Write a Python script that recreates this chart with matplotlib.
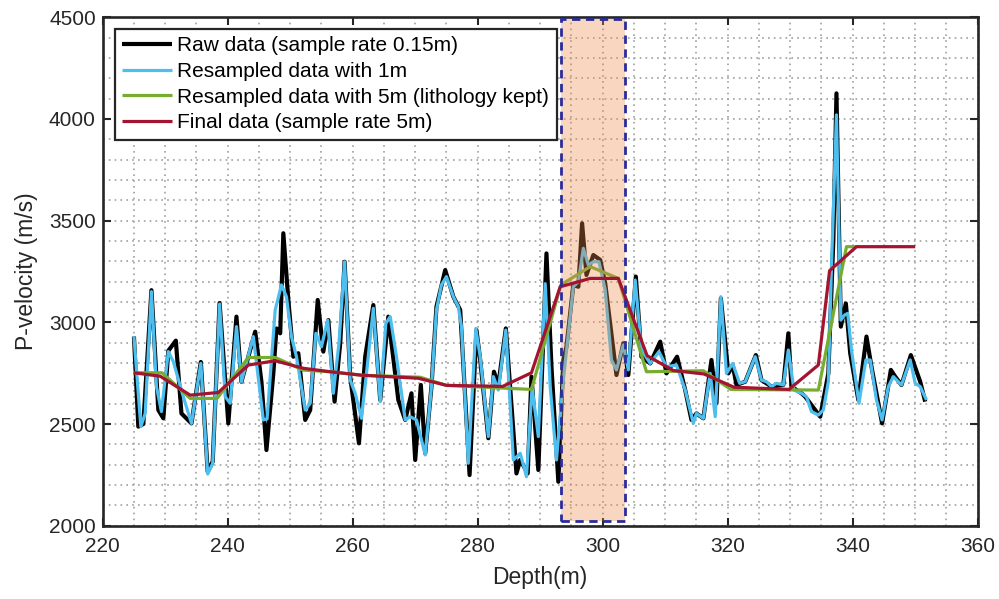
import matplotlib
matplotlib.use("Agg")
import matplotlib.pyplot as plt
from matplotlib.patches import Rectangle
from matplotlib.ticker import MultipleLocator

plt.rcParams['font.family'] = ['Liberation Sans', 'DejaVu Sans']

# raw data (sample rate 0.15m) - vertices
raw_depth = [225.0, 225.7, 226.5, 227.8, 228.9, 229.7, 230.5, 231.7, 232.6, 234.2,
             235.7, 236.8, 237.6, 238.7, 240.1, 241.4, 242.2, 244.4, 245.4, 246.2,
             247.3, 247.8, 248.4, 248.9, 249.7, 250.5, 251.3, 252.4, 253.2, 254.4,
             255.3, 256.1, 257.1, 258.0, 258.7, 259.6, 261.0, 262.0, 263.3, 264.4,
             265.7, 267.3, 268.4, 269.4, 270.0, 270.9, 271.6, 272.6, 273.4, 274.8,
             276.1, 277.2, 278.7, 279.8, 280.4, 281.7, 282.6, 283.3, 284.5, 286.2,
             286.8, 288.0, 288.6, 289.7, 291.0, 291.8, 292.9, 293.7, 294.2, 295.3,
             296.1, 296.7, 297.4, 298.5, 299.6, 300.4, 302.2, 303.3, 304.1, 305.3,
             306.2, 307.6, 309.2, 310.2, 311.9, 313.2, 314.2, 315.0, 316.1, 317.4,
             318.2, 318.9, 320.1, 320.8, 321.4, 322.8, 324.5, 325.4, 327.0, 328.9,
             329.7, 330.2, 331.8, 332.4, 334.8, 336.1, 336.9, 337.4, 338.1, 338.9,
             339.6, 340.9, 342.2, 343.0, 344.7, 346.1, 346.8, 347.8, 349.3, 350.8,
             351.6]
raw_vp = [2930, 2487, 2500, 3158, 2569, 2528, 2860, 2910, 2552, 2503,
          2805, 2265, 2315, 3095, 2503, 3028, 2708, 2954, 2707, 2372,
          2749, 2970, 2946, 3438, 3110, 2831, 2848, 2520, 2569, 3110,
          2856, 3011, 2610, 2897, 3298, 2733, 2405, 2831, 3085, 2618,
          3028, 2618, 2520, 2651, 2323, 2692, 2356, 2684, 3077, 3257,
          3126, 3061, 2249, 2962, 2815, 2430, 2757, 2692, 2970, 2257,
          2323, 2257, 2733, 2274, 3339, 2782, 2216, 2815, 2880, 3184,
          3175, 3487, 3233, 3331, 3307, 3192, 2741, 2897, 2741, 3225,
          2831, 2798, 2905, 2749, 2831, 2667, 2520, 2552, 2528, 2815,
          2602, 3118, 2749, 2790, 2692, 2708, 2839, 2716, 2684, 2692,
          2946, 2684, 2651, 2634, 2536, 2749, 3405, 4126, 2979, 3093,
          2848, 2618, 2930, 2782, 2503, 2766, 2733, 2692, 2839, 2708,
          2610]

# resampled with 1m
rs1_depth = [225.0, 226.1, 226.8, 227.8, 228.6, 229.4, 230.5, 231.3, 232.9, 234.2,
             235.7, 236.8, 237.6, 238.7, 239.6, 240.4, 241.4, 242.2, 244.1, 245.7,
             246.3, 247.6, 248.6, 249.4, 250.2, 251.0, 252.4, 253.2, 254.1, 255.0,
             256.0, 256.9, 257.8, 258.7, 259.6, 260.4, 261.4, 262.2, 263.3, 264.4,
             265.3, 266.0, 267.0, 268.4, 269.2, 270.2, 271.6, 272.6, 273.4, 274.2,
             275.0, 276.1, 276.9, 277.4, 278.5, 279.7, 280.4, 281.7, 282.5, 283.3,
             284.5, 285.7, 286.8, 287.8, 288.7, 289.7, 290.8, 291.6, 292.6, 293.7,
             294.5, 295.3, 296.1, 296.9, 297.7, 298.5, 299.4, 300.4, 301.4, 302.2,
             303.3, 304.1, 305.2, 306.2, 307.6, 309.0, 310.2, 311.8, 313.2, 314.5,
             315.0, 316.1, 317.2, 318.0, 318.9, 319.8, 320.8, 321.9, 322.8, 324.4,
             325.4, 326.2, 327.0, 327.8, 328.9, 329.7, 330.6, 331.8, 332.6, 333.4,
             334.5, 335.3, 336.1, 336.6, 337.4, 338.1, 338.7, 339.2, 339.8, 341.0,
             342.1, 342.8, 343.8, 344.7, 345.7, 346.5, 347.8, 349.2, 350.0, 350.8,
             351.8]
rs1_vp = [2930, 2487, 2552, 3151, 2684, 2561, 2856, 2807, 2634, 2503,
          2798, 2254, 2307, 3090, 2634, 2602, 2979, 2708, 2930, 2520,
          2525, 3061, 3184, 3126, 2930, 2831, 2569, 2602, 2946, 2880,
          3011, 2651, 2896, 3298, 2716, 2651, 2528, 2748, 3069, 2610,
          2995, 3028, 2831, 2520, 2536, 2520, 2348, 2684, 3061, 3184,
          3225, 3126, 3077, 2979, 2307, 2970, 2831, 2438, 2733, 2667,
          2962, 2323, 2356, 2241, 2680, 2438, 3190, 2684, 2323, 2716,
          2946, 3175, 3200, 3364, 3282, 3298, 3298, 3159, 2815, 2766,
          2889, 2766, 3208, 2864, 2798, 2856, 2782, 2790, 2667, 2503,
          2552, 2528, 2749, 2536, 3126, 2749, 2798, 2700, 2708, 2831,
          2716, 2708, 2684, 2700, 2692, 2864, 2667, 2651, 2634, 2561,
          2544, 2569, 2708, 3274, 4020, 3011, 3036, 3044, 2864, 2602,
          2815, 2815, 2618, 2520, 2684, 2733, 2692, 2815, 2700, 2684,
          2618]

# resampled with 5m (lithology kept)
rs5_depth = [225.0, 229.5, 234.0, 238.3, 243.3, 247.6, 252.1, 256.4, 261.4, 270.8,
             275.0, 288.6, 293.3, 298.0, 302.5, 307.0, 316.1, 320.5, 334.5, 339.0,
             340.6]
rs5_vp = [2752, 2752, 2626, 2626, 2827, 2827, 2765, 2757, 2740, 2730,
          2690, 2670, 3184, 3274, 3216, 2757, 2762, 2670, 2667, 3372,
          3372]

# final data (sample rate 5m)
final_depth = [225.0, 229.2, 234.0, 238.5, 243.3, 247.6, 252.1, 256.4, 261.4, 270.5,
               275.0, 284.0, 288.6, 293.2, 298.0, 302.5, 307.1, 311.3, 316.2, 321.0,
               329.8, 334.5, 336.3, 340.6, 350.0]
final_vp = [2752, 2735, 2642, 2655, 2790, 2811, 2774, 2757, 2740, 2725,
            2690, 2685, 2752, 3175, 3216, 3216, 2836, 2763, 2746, 2681,
            2670, 2790, 3254, 3372, 3372]

# highlighted interval
box_depth = [293.3, 303.5]
box_vp = [2025, 4490]

fig = plt.figure(figsize=(9.99, 5.99), dpi=100)
ax = fig.add_axes([0.1028, 0.1224, 0.8759, 0.8487])

kw = dict(solid_joinstyle='round', solid_capstyle='butt')
ax.plot(raw_depth, raw_vp, color='black', lw=3.0, label='Raw data (sample rate 0.15m)', zorder=3, **kw)
ax.plot(rs1_depth, rs1_vp, color='#4DBEEE', lw=2.3, label='Resampled data with 1m', zorder=4, **kw)
ax.plot(rs5_depth, rs5_vp, color='#77AC30', lw=2.3, label='Resampled data with 5m (lithology kept)', zorder=5, **kw)
ax.plot(final_depth, final_vp, color='#A2142F', lw=2.3, label='Final data (sample rate 5m)', zorder=7, **kw)

ax.add_patch(Rectangle((box_depth[0], box_vp[0]), box_depth[1] - box_depth[0], box_vp[1] - box_vp[0],
                       facecolor=(0.92, 0.55, 0.30), alpha=0.35, edgecolor='none', zorder=6))
ax.add_patch(Rectangle((box_depth[0], box_vp[0]), box_depth[1] - box_depth[0], box_vp[1] - box_vp[0],
                       fill=False, edgecolor='#2B2B9A', lw=2.0, linestyle=(0, (3, 2)), zorder=8))

ax.set_xlim(220, 360)
ax.set_ylim(2000, 4500)
ax.xaxis.set_major_locator(MultipleLocator(20))
ax.xaxis.set_minor_locator(MultipleLocator(5))
ax.yaxis.set_major_locator(MultipleLocator(500))
ax.yaxis.set_minor_locator(MultipleLocator(100))
ax.grid(True, which='both', linestyle=(0, (1, 2.5)), color='#a0a0a0', lw=1.2, zorder=0)
ax.set_axisbelow(True)

ax.tick_params(which='major', direction='in', length=6, width=1.5, top=True, right=True,
               labelsize=15, colors='#262626')
ax.tick_params(axis='x', which='major', pad=8)
ax.tick_params(axis='y', which='major', pad=5)
ax.tick_params(which='minor', length=0, top=True, right=True)
for s in ax.spines.values():
    s.set_linewidth(1.9)
    s.set_color('#262626')

ax.set_xlabel('Depth(m)', fontsize=16.5, color='#262626', labelpad=7)
ax.set_ylabel('P-velocity (m/s)', fontsize=16.5, color='#262626', labelpad=8)

leg = ax.legend(loc='upper left', bbox_to_anchor=(0.014, 0.977), borderaxespad=0,
                fontsize=15, fancybox=False, framealpha=1, edgecolor='#262626',
                handlelength=2.4, handletextpad=0.25, labelspacing=0.32, borderpad=0.35)
leg.get_frame().set_linewidth(1.6)
leg.set_zorder(10)

fig.savefig('out.png', dpi=100)
